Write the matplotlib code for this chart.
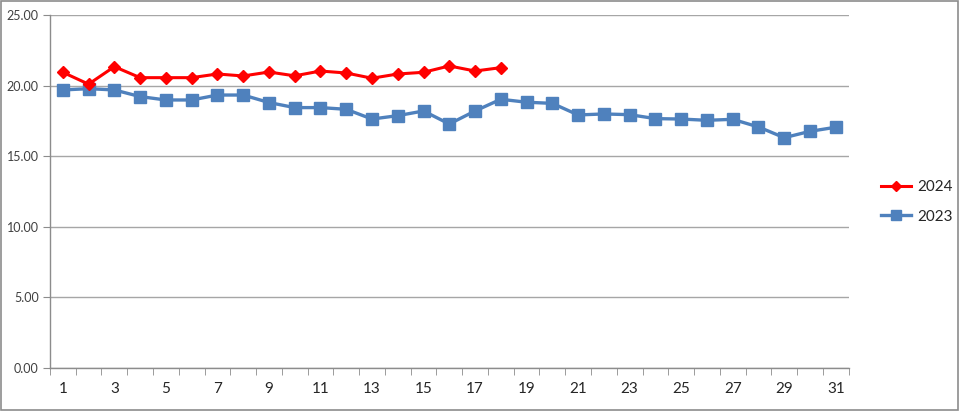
import matplotlib
matplotlib.use('Agg')
import matplotlib.pyplot as plt

# Daily values
days = list(range(1, 32))
vals_2024 = [20.94, 20.10, 21.34, 20.56, 20.56, 20.56, 20.82, 20.68, 20.96,
             20.69, 21.03, 20.89, 20.52, 20.82, 20.94, 21.39, 21.03, 21.27]
vals_2023 = [19.69, 19.78, 19.69, 19.22, 18.98, 18.98, 19.33, 19.33, 18.80,
             18.44, 18.44, 18.32, 17.63, 17.87, 18.20, 17.28, 18.20, 19.03,
             18.82, 18.74, 17.92, 17.99, 17.94, 17.66, 17.63, 17.54, 17.61,
             17.07, 16.31, 16.76, 17.05]
y_ticks = [0, 5, 10, 15, 20, 25]
x_labels = [str(d) for d in range(1, 32, 2)]

plt.rcParams['font.family'] = ['Lato', 'DejaVu Sans']

fig = plt.figure(figsize=(9.6, 4.11), dpi=100)
fig.patches.append(plt.Rectangle((0.001, 0.002), 0.997, 0.995,
                                 transform=fig.transFigure, fill=False,
                                 edgecolor='#8c8c8c', linewidth=1.2))
ax = fig.add_axes([0.052, 0.1046, 0.832, 0.859])

ax.plot(days[:len(vals_2024)], vals_2024, color='#ff0000', linewidth=2.2,
        marker='D', markersize=6.5, markeredgecolor='#ff0000', label='2024',
        zorder=4)
ax.plot(days, vals_2023, color='#4f81bd', linewidth=2.4,
        marker='s', markersize=8, markeredgecolor='#4f81bd', label='2023',
        zorder=3)

ax.set_xlim(0.5, 31.5)
ax.set_ylim(0, 25)
ax.set_yticks(y_ticks)
ax.set_yticklabels(['%.2f' % v for v in y_ticks], fontsize=9, color='#404040')
ax.yaxis.grid(True, color='#a6a6a6', linewidth=1.0)
ax.set_axisbelow(True)

ax.set_xticks(range(1, 32, 2))
ax.set_xticklabels(x_labels, fontsize=11, color='#262626')
ax.set_xticks([d + 0.5 for d in range(0, 32)], minor=True)
ax.tick_params(axis='x', which='major', length=0, pad=10)
ax.tick_params(axis='x', which='minor', length=5, color='#8c8c8c',
               direction='out')
ax.tick_params(axis='y', length=5, color='#8c8c8c', direction='out', pad=3)

for side in ('top', 'right'):
    ax.spines[side].set_visible(False)
for side in ('left', 'bottom'):
    ax.spines[side].set_color('#8c8c8c')
    ax.spines[side].set_linewidth(1.0)

leg = ax.legend(loc='center left', bbox_to_anchor=(1.0, 0.47), frameon=False,
                fontsize=11, handlelength=1.95, handletextpad=0.4,
                labelspacing=1.0, markerscale=0.85, borderaxespad=1.75)
for t in leg.get_texts():
    t.set_color('#262626')

fig.savefig('out.png', dpi=100)
